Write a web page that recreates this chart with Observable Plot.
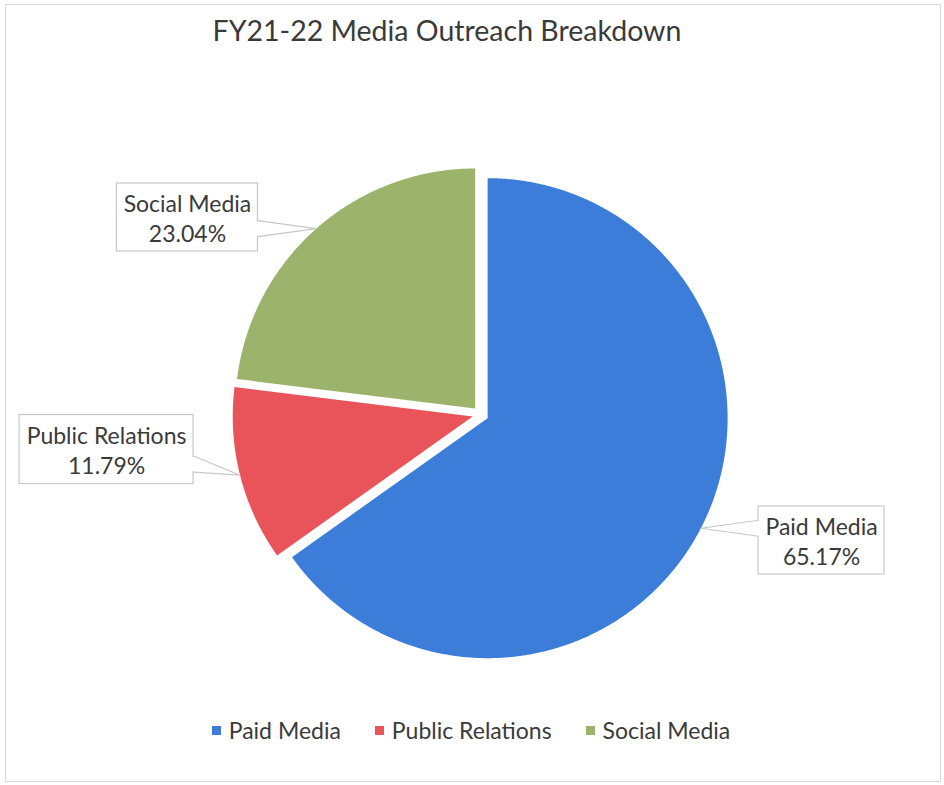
<!DOCTYPE html>
<html><head><meta charset="utf-8">
<script src="https://cdn.jsdelivr.net/npm/d3@7"></script>
<script src="https://cdn.jsdelivr.net/npm/@observablehq/plot@0.6"></script>
<style>
body{margin:0;background:#fff;}
#page{position:relative;width:944px;height:785px;font-family:Lato,"Open Sans",sans-serif;color:#3a3a3a;overflow:hidden;background:#fff}
#frame{position:absolute;left:5px;top:4px;width:934px;height:776px;border:1px solid #d9d9d9;pointer-events:none}
#title{position:absolute;left:447px;top:12px;transform:translateX(-50%);white-space:nowrap;font-size:28.5px;line-height:36px;color:#3a3a3a}
#chart{position:absolute;left:0;top:62px}
#legend{position:absolute;left:0;top:716px;width:942px;display:flex;justify-content:center;gap:34px;font-size:23px;line-height:28px;color:#3a3a3a}
#legend .item{display:flex;align-items:center;gap:8px}
#legend .sw{width:9px;height:9px;display:inline-block}
</style></head>
<body>
<div id="page">
  <div id="frame"></div>
  <div id="title"></div>
  <div id="chart"></div>
  <div id="legend"></div>
</div>
<script>
// ---- data ----
const categories = ["Paid Media", "Public Relations", "Social Media"];
const shares = [65.17, 11.79, 23.04];
const pctLabels = ["65.17%", "11.79%", "23.04%"];
const colors = ["#3b7dd8", "#e8545a", "#9bb36b"];
const titleText = "FY21-22 Media Outreach Breakdown";

// ---- layout ----
const W = 944, H = 645;
const R = 240;              // pie radius in px
const CX = 480, CY = 352;   // pie centre in svg px
const EXP = 8 / R;          // explosion offset (units of radius)
// label box centres (units of radius, y up) and box sizes in px
const labelCentres = [[1.421, -0.525], [-1.558, -0.146], [-1.221, 0.821]];
const labelSizes = [[126, 68], [174, 69], [141, 68]];

document.getElementById("title").textContent = titleText;

const arcs = d3.pie().sort(null).value((d, i) => shares[i])(categories);

const slicePts = [];
const tips = [];
arcs.forEach((a, i) => {
  const name = categories[i];
  const mid = (a.startAngle + a.endAngle) / 2;
  const ox = EXP * Math.sin(mid), oy = EXP * Math.cos(mid);
  slicePts.push({name, x: ox, y: oy});
  const n = Math.ceil((a.endAngle - a.startAngle) / 0.005);
  for (let k = 0; k <= n; k++) {
    const t = a.startAngle + (a.endAngle - a.startAngle) * k / n;
    slicePts.push({name, x: ox + Math.sin(t), y: oy + Math.cos(t)});
  }
  slicePts.push({name, x: ox, y: oy});
  tips.push({x: ox + Math.sin(mid), y: oy + Math.cos(mid)});
});

const labels = categories.map((name, i) => {
  const [cx, cy] = labelCentres[i];
  const hw = labelSizes[i][0] / 2 / R, hh = labelSizes[i][1] / 2 / R;
  return {name, pct: pctLabels[i], cx, cy, x1: cx - hw, x2: cx + hw, y1: cy - hh, y2: cy + hh, tip: tips[i]};
});

const wedgePts = [];
const covers = [];
labels.forEach(l => {
  const edgeX = l.tip.x > l.x2 ? l.x2 : l.x1;
  const m = 20 / R, h = 8 / R;
  const yc = Math.max(l.y1 + m, Math.min(l.y2 - m, l.tip.y));
  wedgePts.push({name: l.name, x: edgeX, y: yc + h});
  wedgePts.push({name: l.name, x: l.tip.x, y: l.tip.y});
  wedgePts.push({name: l.name, x: edgeX, y: yc - h});
  covers.push({x: edgeX, y1: yc + h - 1 / R, y2: yc - h + 1 / R});
});

const chart = Plot.plot({
  width: W, height: H,
  margin: 0,
  x: {domain: [-CX / R, (W - CX) / R], axis: null},
  y: {domain: [-(H - CY) / R, CY / R], axis: null},
  color: {domain: categories, range: colors},
  style: {fontFamily: "Lato, 'Open Sans', sans-serif", background: "transparent"},
  marks: [
    Plot.line(slicePts, {x: "x", y: "y", z: "name", fill: "name", stroke: "none", curve: "linear"}),
    Plot.rect(labels, {x1: "x1", x2: "x2", y1: "y1", y2: "y2", fill: "white", stroke: "#c8c8c8", strokeWidth: 1.2}),
    Plot.link(covers, {x1: "x", x2: "x", y1: "y1", y2: "y2", stroke: "white", strokeWidth: 3}),
    Plot.line(wedgePts, {x: "x", y: "y", z: "name", fill: "white", stroke: "#c8c8c8", strokeWidth: 1.2, curve: "linear"}),
    Plot.text(labels, {x: "cx", y: "cy", text: d => d.name + "\n" + d.pct, fontSize: 23, lineHeight: 1.3, fill: "#3a3a3a"})
  ]
});
document.getElementById("chart").appendChild(chart);

// legend
const lg = document.getElementById("legend");
categories.forEach((c, i) => {
  const it = document.createElement("div");
  it.className = "item";
  const sw = document.createElement("span");
  sw.className = "sw";
  sw.style.background = chart.scale("color").apply(c);
  const tx = document.createElement("span");
  tx.textContent = c;
  it.appendChild(sw); it.appendChild(tx);
  lg.appendChild(it);
});
</script>
</body></html>
